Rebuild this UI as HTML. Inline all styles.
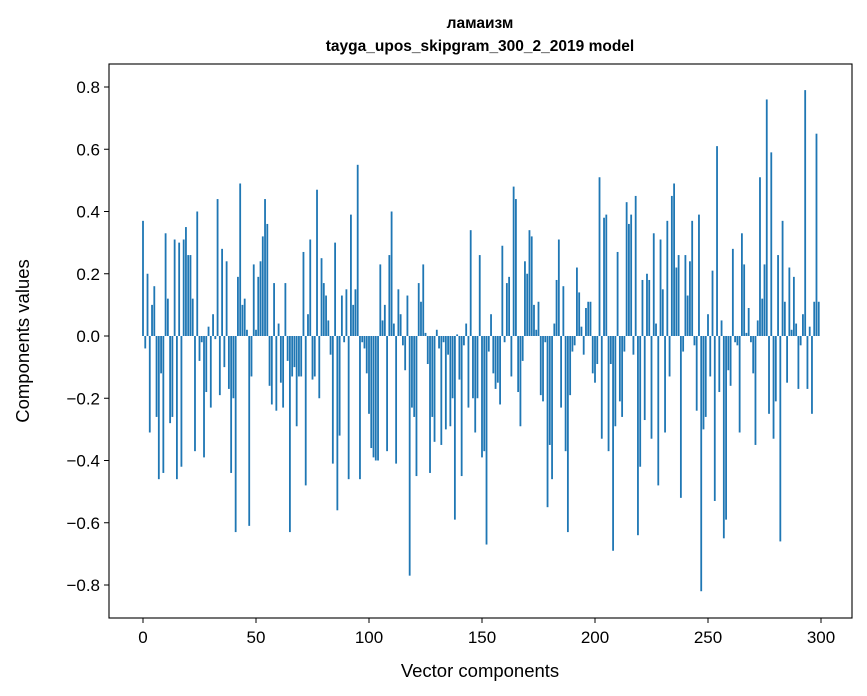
<!DOCTYPE html>
<html><head><meta charset="utf-8"><style>
body{margin:0;background:#fff;}
svg{display:block;font-family:"Liberation Sans","DejaVu Sans",sans-serif;}
</style></head><body>
<svg id="chart" width="867" height="696" viewBox="0 0 867 696">
<rect x="0" y="0" width="867" height="696" fill="#fff"/>
<text x="480" y="28" text-anchor="middle" font-size="15.5" font-weight="bold">ламаизм</text>
<text x="480" y="51" text-anchor="middle" font-size="15.5" font-weight="bold">tayga_upos_skipgram_300_2_2019 model</text>
<g id="bars"></g>
<g id="axes"></g>
<rect x="109" y="64" width="743" height="554" fill="none" stroke="#000" stroke-width="1.1"/>
<text x="480" y="677" text-anchor="middle" font-size="18.5">Vector components</text>
<text transform="translate(29,341) rotate(-90)" text-anchor="middle" font-size="18.5">Components values</text>
</svg>
<script>
const values = [
0.37,-0.04,0.20,-0.31,0.10,0.16,-0.26,-0.46,-0.12,-0.44,
0.33,0.12,-0.28,-0.26,0.31,-0.46,0.30,-0.42,0.31,0.35,
0.26,0.26,0.12,-0.37,0.40,-0.08,-0.02,-0.39,-0.18,0.03,
-0.23,0.07,-0.01,0.44,-0.19,0.28,-0.10,0.24,-0.17,-0.44,
-0.20,-0.63,0.19,0.49,0.10,0.12,0.02,-0.61,-0.13,0.23,
0.02,0.19,0.24,0.32,0.44,0.36,-0.16,-0.22,0.17,-0.24,
0.04,-0.15,-0.23,0.17,-0.08,-0.63,-0.13,-0.10,-0.29,-0.13,
-0.13,0.27,-0.48,0.07,0.31,-0.14,-0.13,0.47,-0.20,0.25,
0.17,0.13,0.05,-0.06,-0.41,0.30,-0.56,-0.32,0.13,-0.02,
0.15,-0.46,0.39,0.10,0.15,0.55,-0.46,-0.02,-0.04,-0.12,
-0.25,-0.36,-0.39,-0.40,-0.40,0.23,0.05,0.10,-0.37,0.26,
0.40,0.04,-0.41,0.15,0.07,-0.03,-0.11,0.13,-0.77,-0.23,
-0.26,-0.45,0.17,0.11,0.23,0.01,-0.09,-0.44,-0.26,-0.34,
0.02,-0.04,-0.35,-0.02,-0.30,-0.06,-0.29,-0.20,-0.59,0.005,
-0.14,-0.45,-0.03,0.04,-0.23,0.34,-0.20,-0.31,-0.20,0.26,
-0.39,-0.37,-0.67,-0.05,0.07,-0.12,-0.17,-0.15,-0.22,0.29,
-0.02,0.17,0.19,-0.13,0.48,0.44,-0.18,-0.29,-0.08,0.24,
0.20,0.34,0.32,0.10,0.02,0.11,-0.19,-0.21,-0.02,-0.55,
-0.35,-0.46,0.04,0.18,0.31,-0.23,0.16,-0.37,-0.63,-0.19,
-0.05,-0.03,0.22,0.14,0.03,-0.06,0.09,0.11,0.11,-0.12,
-0.15,-0.09,0.51,-0.33,0.38,0.39,-0.37,-0.09,-0.69,-0.29,
0.27,-0.21,-0.26,-0.05,0.43,0.36,0.39,-0.06,0.45,-0.64,
-0.42,0.18,-0.27,0.20,0.18,-0.33,0.33,0.04,-0.48,0.31,
0.15,-0.31,0.37,-0.13,0.45,0.49,0.22,0.26,-0.52,-0.05,
0.26,0.13,0.24,0.37,-0.03,-0.24,0.39,-0.82,-0.30,-0.26,
0.07,-0.13,0.21,-0.53,0.61,-0.18,0.05,-0.65,-0.59,-0.11,
-0.16,0.28,-0.02,-0.03,-0.31,0.33,0.23,0.01,0.09,-0.02,
-0.12,-0.35,0.05,0.51,0.12,0.23,0.76,-0.25,0.59,-0.33,
-0.21,0.26,-0.66,0.37,0.11,-0.15,0.22,0.02,0.19,0.04,
-0.17,-0.03,0.07,0.79,-0.17,0.03,-0.25,0.11,0.65,0.11
];
const xTicks = [0,50,100,150,200,250,300];
const yTicks = [-0.8,-0.6,-0.4,-0.2,0.0,0.2,0.4,0.6,0.8];
const yTickLabels = ["\u22120.8","\u22120.6","\u22120.4","\u22120.2","0.0","0.2","0.4","0.6","0.8"];

const NS = "http://www.w3.org/2000/svg";
function xScale(v){ return 143 + v * (678/300); }
function yScale(v){ return 336 - v * (249/0.8); }
const barsG = document.getElementById('bars');
const bw = 0.8 * 678/300;
values.forEach((v,i)=>{
  const r = document.createElementNS(NS,'rect');
  const y0 = yScale(0), y1 = yScale(v);
  r.setAttribute('x', xScale(i) - bw/2);
  r.setAttribute('y', Math.min(y0,y1));
  r.setAttribute('width', bw);
  r.setAttribute('height', Math.max(Math.abs(y1-y0), 0.3));
  r.setAttribute('fill', '#1f77b4');
  
  
  barsG.appendChild(r);
});
const axesG = document.getElementById('axes');
xTicks.forEach(t=>{
  const x = xScale(t);
  const l = document.createElementNS(NS,'line');
  l.setAttribute('x1',x); l.setAttribute('x2',x);
  l.setAttribute('y1',618); l.setAttribute('y2',623);
  l.setAttribute('stroke','#000');
  
  
  axesG.appendChild(l);
  const tx = document.createElementNS(NS,'text');
  tx.setAttribute('x',x); tx.setAttribute('y',643);
  tx.setAttribute('text-anchor','middle'); tx.setAttribute('font-size','17');
  tx.textContent = String(t);
  
  
  axesG.appendChild(tx);
});
yTicks.forEach((t,i)=>{
  const y = yScale(t);
  const l = document.createElementNS(NS,'line');
  l.setAttribute('x1',104); l.setAttribute('x2',109);
  l.setAttribute('y1',y); l.setAttribute('y2',y);
  l.setAttribute('stroke','#000');
  
  
  axesG.appendChild(l);
  const tx = document.createElementNS(NS,'text');
  tx.setAttribute('x',100); tx.setAttribute('y',y+6);
  tx.setAttribute('text-anchor','end'); tx.setAttribute('font-size','17');
  tx.textContent = yTickLabels[i];
  
  
  axesG.appendChild(tx);
});
</script>
</body></html>
